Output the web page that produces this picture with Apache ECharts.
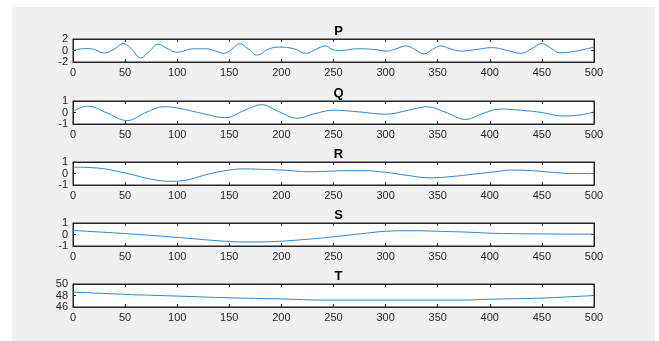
<!DOCTYPE html>
<html>
<head>
<meta charset="utf-8">
<script src="https://cdn.jsdelivr.net/npm/echarts@6/dist/echarts.min.js"></script>
<style>
  html, body { margin: 0; padding: 0; background: #fff; }
  .wrap { position: relative; width: 659px; height: 341px; }
  .figbg { position: absolute; left: 12px; top: 7px; width: 643px; height: 334px; background: #f0f0f0; }
  #chart { position: absolute; left: 0; top: 0; width: 659px; height: 341px; }
</style>
</head>
<body>
<div class="wrap">
  <div class="figbg"></div>
  <div id="chart"></div>
</div>
<script>
// sample points, [x, y]
const titles = ['P', 'Q', 'R', 'S', 'T']
const xTicks = [0, 500, 50]

const pData = [[0, 0.0], [12, 0.35], [20, 0.2], [30, -0.45], [40, 0.3], [48, 1.2], [56, 0.3], [65, -1.3], [73, -0.2],
  [82, 1.1], [90, 0.4], [100, -0.3], [115, 0.3], [128, 0.3], [137, -0.1], [145, -0.5], [152, 0.2], [160, 1.2],
  [168, 0.3], [177, -0.8], [187, 0.2], [198, 0.6], [212, 0.3], [224, -0.5], [233, 0.2], [242, 0.8], [250, 0.1],
  [258, 0], [272, 0.3], [288, 0.2], [302, -0.1], [310, 0.3], [320, 0.8], [328, 0.2], [337, -0.6], [345, 0.2],
  [353, 0.8], [362, 0.3], [372, -0.1], [388, 0.2], [402, 0.5], [415, 0.1], [430, -0.5], [440, 0.3], [450, 1.2],
  [458, 0.5], [467, -0.4], [483, -0.1], [500, 0.6]]
const qData = [[0, 0.1], [14, 0.55], [33, -0.05], [52, -0.7], [70, 0.0], [87, 0.5], [100, 0.4], [125, -0.1],
  [146, -0.45], [165, 0.2], [181, 0.68], [197, 0.1], [215, -0.5], [232, -0.1], [250, 0.2], [275, 0.05],
  [300, -0.15], [322, 0.2], [340, 0.5], [358, 0.0], [377, -0.6], [393, -0.1], [410, 0.3], [430, 0.2],
  [450, 0.0], [470, -0.3], [488, -0.2], [500, 0.05]]
const rData = [[0, 0.55], [20, 0.5], [50, 0.05], [75, -0.5], [95, -0.68], [110, -0.55], [130, -0.05], [150, 0.3],
  [165, 0.4], [185, 0.35], [205, 0.28], [225, 0.15], [245, 0.2], [265, 0.25], [280, 0.25], [300, 0.1],
  [320, -0.15], [343, -0.38], [365, -0.25], [385, -0.05], [405, 0.15], [420, 0.3], [440, 0.25], [460, 0.1],
  [480, 0.0], [500, 0.0]]
const sData = [[0, 0.35], [50, 0.08], [100, -0.25], [140, -0.55], [165, -0.65], [190, -0.62], [220, -0.45],
  [250, -0.2], [280, 0.1], [300, 0.28], [325, 0.33], [350, 0.28], [380, 0.2], [405, 0.1], [450, 0.05], [500, 0.03]]
const tData = [[0, 48.6], [50, 48.2], [100, 47.9], [150, 47.6], [200, 47.4], [240, 47.2], [300, 47.2],
  [370, 47.2], [400, 47.35], [450, 47.55], [500, 48.0]]

// y limits [min, max, interval]
const yRanges = [[-2, 2, 2], [-1, 1, 1], [-1, 1, 1], [-1, 1, 1], [46, 50, 2]]
const allData = [pData, qData, rData, sData, tData]

const gridTops = [39, 101, 162, 223, 284]
const boxH = 23
const boxL = 73
const boxW = 521
const font = 'Liberation Sans, Arial, sans-serif'

const option = {
  animation: false,
  title: [],
  grid: [],
  xAxis: [],
  yAxis: [],
  series: []
}

const lineCol = '#262626'

titles.forEach((name, i) => {
  option.title.push({
    text: name,
    left: boxL + boxW / 2,
    top: gridTops[i] - 19,
    textAlign: 'center',
    textStyle: { fontFamily: font, fontSize: 13, fontWeight: 'bold', color: '#000' }
  })
  option.grid.push({
    left: boxL,
    top: gridTops[i],
    width: boxW,
    height: boxH,
    show: true,
    backgroundColor: '#fff',
    borderColor: lineCol,
    borderWidth: 1
  })
  const tickStyle = { show: true, inside: true, length: 3, lineStyle: { color: lineCol } }
  const axLine = { show: true, onZero: false, lineStyle: { color: lineCol } }
  // bottom x axis with labels, top one only for the mirrored ticks
  option.xAxis.push({
    gridIndex: i, type: 'value', min: xTicks[0], max: xTicks[1], interval: xTicks[2],
    axisLine: axLine,
    axisTick: tickStyle,
    splitLine: { show: false },
    axisLabel: { fontFamily: font, fontSize: 11, color: lineCol, margin: 5 }
  })
  option.xAxis.push({
    gridIndex: i, type: 'value', position: 'top', min: xTicks[0], max: xTicks[1], interval: xTicks[2],
    axisLine: axLine,
    axisTick: tickStyle,
    splitLine: { show: false },
    axisLabel: { show: false }
  })
  const yr = yRanges[i]
  option.yAxis.push({
    gridIndex: i, type: 'value', min: yr[0], max: yr[1], interval: yr[2],
    axisLine: axLine,
    axisTick: tickStyle,
    splitLine: { show: false },
    axisLabel: { fontFamily: font, fontSize: 11, color: lineCol, margin: 5 }
  })
  option.yAxis.push({
    gridIndex: i, type: 'value', position: 'right', min: yr[0], max: yr[1], interval: yr[2],
    axisLine: axLine,
    axisTick: tickStyle,
    splitLine: { show: false },
    axisLabel: { show: false }
  })
  option.series.push({
    name: name,
    type: 'line',
    xAxisIndex: i * 2,
    yAxisIndex: i * 2,
    data: allData[i],
    smooth: 0.4,
    showSymbol: false,
    lineStyle: { color: '#2f86cc', width: 1 }
  })
})

const myChart = echarts.init(document.getElementById('chart'))
myChart.setOption(option)
</script>
</body>
</html>
